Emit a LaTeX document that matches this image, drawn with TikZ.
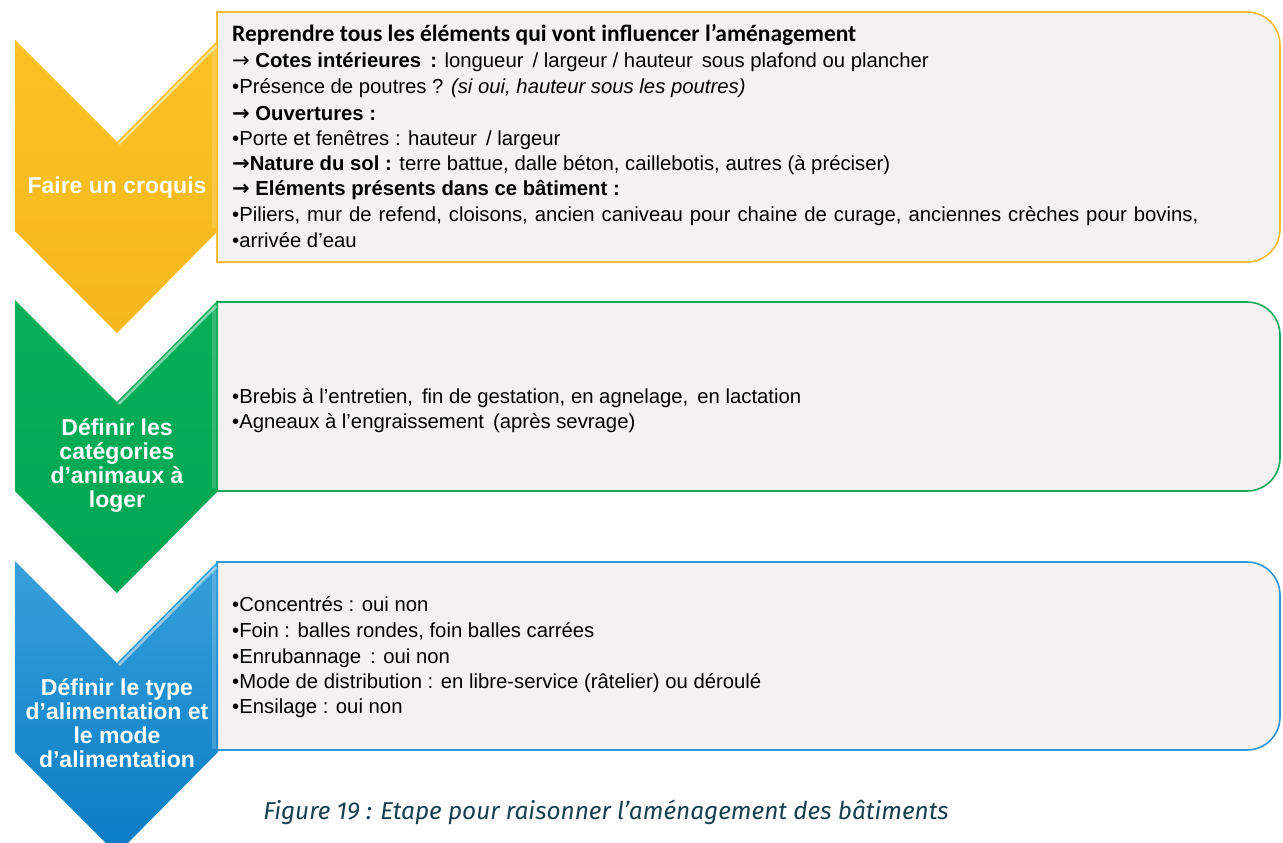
\documentclass[tikz,border=0pt]{standalone}
\usepackage{fontspec}
\setmainfont{Liberation Sans}
\newfontfamily\calib{Carlito}
\newfontfamily\capf{Fira Sans}
\newfontfamily\dv{DejaVu Sans}
\newcommand\arr{{\dv\fontsize{21}{20}\selectfont →}}
\definecolor{ytop}{HTML}{FBC126}
\definecolor{ybot}{HTML}{F4B81A}
\definecolor{gtop}{HTML}{08AE58}
\definecolor{gbot}{HTML}{00A651}
\definecolor{btop}{HTML}{36A0DA}
\definecolor{bbot}{HTML}{0A7CC4}
\definecolor{boxfill}{HTML}{F3F2F1}
\definecolor{yline}{HTML}{F7BC33}
\definecolor{gline}{HTML}{14A85C}
\definecolor{bline}{HTML}{3097D6}
\definecolor{capcol}{HTML}{173F4F}
\tikzset{
  body/.style={anchor=base west, inner sep=0pt, font=\fontsize{20.3}{24}\selectfont, text=black},
  lab/.style={anchor=base, inner sep=0pt, font=\fontsize{23}{24}\selectfont\bfseries, text=white},
  boxline/.style={line width=1.6pt, fill=boxfill},
  shine/.style={white, opacity=0.5, line width=2.5pt},
  rim/.style={white, opacity=0.18, line width=4pt},
}
\begin{document}
\begin{tikzpicture}[x=1pt,y=-1pt]
\useasboundingbox (0,0) rectangle (1283,843);
\clip (0,0) rectangle (1283,843);

% ---------- boxes ----------
\draw[boxline, draw=yline] (217,12) -- (1247,12) arc[start angle=-90,end angle=0,radius=33]
  -- (1280,229) arc[start angle=0,end angle=90,radius=33] -- (217,262) -- cycle;
\draw[boxline, draw=gline] (217,302) -- (1247,302) arc[start angle=-90,end angle=0,radius=33]
  -- (1280,458) arc[start angle=0,end angle=90,radius=33] -- (217,491) -- cycle;
\draw[boxline, draw=bline] (217,562) -- (1247,562) arc[start angle=-90,end angle=0,radius=33]
  -- (1280,717) arc[start angle=0,end angle=90,radius=33] -- (217,750) -- cycle;

% ---------- chevrons ----------
\shade[top color=ytop, bottom color=ybot] (15,40) -- (117,142) -- (218,40) -- (218,231) -- (117,333) -- (15,231) -- cycle;
\draw[shine] (119,144) -- (216,46);
\draw[rim] (214,48) -- (214,228);
\shade[top color=gtop, bottom color=gbot] (15,300) -- (117,402) -- (218,300) -- (218,491) -- (117,593) -- (15,491) -- cycle;
\draw[shine] (119,404) -- (216,306);
\draw[rim] (214,308) -- (214,488);
\shade[top color=btop, bottom color=bbot] (15,561) -- (117,663) -- (218,561) -- (218,752) -- (117,854) -- (15,752) -- cycle;
\draw[shine] (119,665) -- (216,567);
\draw[rim] (214,569) -- (214,749);

% ---------- chevron labels ----------
\node[lab] (c1) at (117,193) {Faire un croquis};
\node[lab] (c2a) at (117,435) {Définir les};
\node[lab] (c2b) at (117,459) {catégories};
\node[lab] (c2c) at (117,483) {d’animaux à};
\node[lab] (c2d) at (117,507) {loger};
\node[lab] (c3a) at (117,695) {Définir le type};
\node[lab] (c3b) at (117,719) {d’alimentation et};
\node[lab] (c3c) at (117,743) {le mode};
\node[lab] (c3d) at (117,767) {d’alimentation};

% ---------- box 1 text ----------
\node[body, font=\fontsize{23.5}{24}\selectfont\calib\bfseries] (t1) at (232,42) {Reprendre tous les éléments qui vont influencer l’aménagement};
\node[body] (t2) at (232,68) {\arr\ \textbf{Cotes intérieures\, :} longueur\, / largeur / hauteur\, sous plafond ou plancher};
\node[body] (t3) at (232,94) {•Présence de poutres ? \textit{(si oui, hauteur sous les poutres)}};
\node[body] (t4) at (232,120) {\textbf{\arr\ Ouvertures :}};
\node[body] (t5) at (232,145) {•Porte et fenêtres : hauteur\, / largeur};
\node[body] (t6) at (232,170) {\textbf{\arr Nature du sol :} terre battue, dalle béton, caillebotis, autres (à préciser)};
\node[body] (t7) at (232,195) {\textbf{\arr\ Eléments présents dans ce bâtiment :}};
\node[body] (t8) at (232,221) {\spaceskip=7.0pt plus 1pt •Piliers, mur de refend, cloisons, ancien caniveau pour chaine de curage, anciennes crèches pour bovins,};
\node[body] (t9) at (232,247) {•arrivée d’eau};

% ---------- box 2 text ----------
\node[body] (u1) at (232,403) {•Brebis à l’entretien,\, fin de gestation, en agnelage,\, en lactation};
\node[body] (u2) at (232,428) {•Agneaux à l’engraissement\, (après sevrage)};

% ---------- box 3 text ----------
\node[body] (v1) at (232,611) {•Concentrés : oui non};
\node[body] (v2) at (232,637) {•Foin : balles rondes, foin balles carrées};
\node[body] (v3) at (232,663) {•Enrubannage\, : oui non};
\node[body] (v4) at (232,688) {•Mode de distribution : en libre-service (râtelier) ou déroulé};
\node[body] (v5) at (232,713) {•Ensilage : oui non};

% ---------- caption ----------
\node[anchor=base, inner sep=0pt, text=capcol, font=\fontsize{24.4}{26}\selectfont\capf\itshape] (cap) at (606,819) {Figure 19 : Etape pour raisonner l’aménagement des bâtiments};
\end{tikzpicture}
\end{document}
